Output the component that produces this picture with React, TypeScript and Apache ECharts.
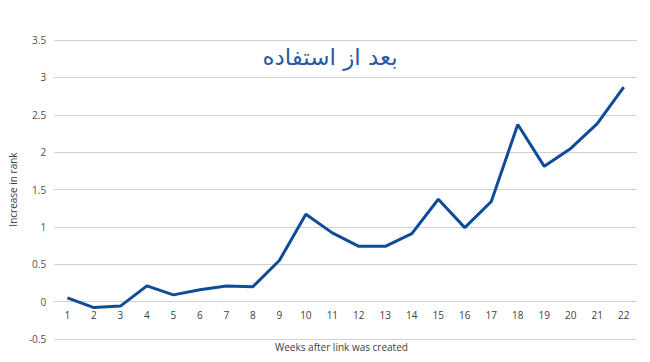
import React, { useEffect, useRef } from "react";
import * as echarts from "echarts";

const weeks = ["1","2","3","4","5","6","7","8","9","10","11","12","13","14","15","16","17","18","19","20","21","22"];
const rankIncrease = [0.05, -0.08, -0.06, 0.21, 0.09, 0.16, 0.21, 0.2, 0.55, 1.17, 0.92, 0.74, 0.74, 0.91, 1.37, 0.99, 1.34, 2.37, 1.81, 2.05, 2.38, 2.87];
const titleText = "بعد از استفاده";
const xName = "Weeks after link was created";
const yName = "Increase in rank";

export default function App() {
  const ref = useRef<HTMLDivElement>(null);
  useEffect(() => {
    const chart = echarts.init(ref.current!, null, { renderer: "svg" });
    chart.setOption({
      animation: false,
      backgroundColor: "#ffffff",
      title: {
        text: titleText,
        left: 325,
        top: 40,
        textAlign: "center",
        textStyle: { fontFamily: "DejaVu Sans", fontSize: 23, fontWeight: "normal", color: "#2b5a9e" },
      },
      grid: { left: 53, right: 13, top: 40, bottom: 23 },
      xAxis: {
        type: "category",
        data: weeks,
        boundaryGap: true,
        offset: -38,
        axisLine: { show: false },
        axisTick: { show: false },
        axisLabel: { color: "#404040", fontSize: 10, fontFamily: "Open Sans", margin: 9 },
      },
      yAxis: {
        type: "value",
        min: -0.5,
        max: 3.5,
        interval: 0.5,
        name: yName,
        nameLocation: "middle",
        nameRotate: 90,
        nameGap: 27,
        nameTextStyle: { color: "#404040", fontSize: 10, fontFamily: "Open Sans" },
        axisLine: { show: false },
        axisTick: { show: false },
        axisLabel: { color: "#505050", fontSize: 10, fontFamily: "Open Sans", margin: 8 },
        splitLine: { lineStyle: { color: "#d0d0d0", width: 1 } },
      },
      graphic: [
        {
          type: "text",
          left: 347 - 72,
          top: 342,
          style: { text: xName, fill: "#404040", fontSize: 10, fontFamily: "Open Sans" },
        },
      ],
      series: [
        {
          type: "line",
          data: rankIncrease,
          symbol: "none",
          lineStyle: { color: "#0f4c98", width: 3 },
        },
      ],
    });
    return () => chart.dispose();
  }, []);
  return <div ref={ref} style={{ width: 650, height: 362, position: "absolute", left: 0, top: 0 }} />;
}
